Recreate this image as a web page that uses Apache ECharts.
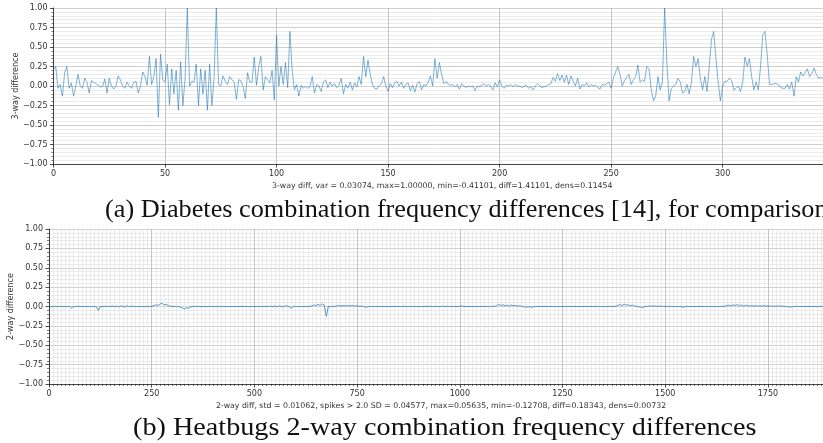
<!DOCTYPE html>
<html>
<head>
<meta charset="utf-8">
<script src="https://cdn.jsdelivr.net/npm/echarts@6/dist/echarts.min.js"></script>
<style>
  html, body { margin: 0; padding: 0; background: #fff; }
  #chart { width: 823px; height: 443px; }
</style>
</head>
<body>
<div id="chart"></div>
<script>
// (a) diabetes, 3-way differences, one value per combination index 0..345
const diabetesDiff = [
  0.20, 0.25, -0.03, 0.02, -0.13, 0.17, 0.25, -0.03, 0.04, -0.13,
  0.00, 0.15, 0.00, -0.03, 0.10, 0.05, -0.09, 0.07, 0.05, 0.03,
  0.01, -0.01, -0.01, 0.09, -0.09, 0.10, 0.00, -0.04, 0.00, 0.13,
  0.08, 0.00, -0.03, 0.05, 0.00, -0.03, 0.05, 0.06, -0.09, 0.00,
  0.18, 0.12, 0.01, 0.38, 0.02, 0.12, 0.35, -0.40, 0.41, 0.08,
  0.05, 0.28, -0.24, 0.22, -0.10, 0.20, -0.31, 0.31, -0.25, 0.10,
  1.00, 0.00, 0.06, 0.05, 0.28, -0.25, 0.22, -0.10, 0.20, -0.31,
  0.28, -0.25, 0.10, 1.00, 0.02, 0.00, 0.13, 0.06, 0.02, 0.12,
  0.08, 0.05, -0.17, 0.08, 0.07, -0.01, -0.16, 0.17, 0.05, 0.05,
  0.37, 0.01, 0.25, 0.38, -0.05, 0.12, 0.08, 0.04, 0.20, -0.18,
  0.65, 0.00, 0.25, 0.02, 0.30, -0.02, 0.70, 0.20, -0.05, 0.02,
  -0.13, 0.01, -0.03, 0.00, -0.03, -0.01, 0.12, -0.09, 0.02, 0.00,
  -0.07, 0.05, 0.08, -0.02, 0.05, 0.00, 0.03, -0.02, 0.01, 0.10,
  -0.10, 0.02, -0.03, 0.05, -0.05, 0.04, -0.01, 0.12, 0.02, 0.38,
  0.12, 0.33, 0.15, 0.02, -0.03, -0.04, 0.00, 0.03, 0.12, 0.00,
  -0.07, 0.03, -0.02, 0.04, 0.06, 0.00, 0.05, -0.03, 0.02, 0.04,
  -0.06, 0.01, -0.08, 0.03, 0.06, -0.05, 0.02, 0.00, 0.05, 0.13,
  0.00, 0.35, 0.10, 0.30, 0.15, 0.03, 0.06, 0.02, 0.01, 0.02,
  -0.01, 0.02, -0.04, 0.03, 0.00, -0.02, 0.00, -0.01, 0.00, -0.06,
  0.00, -0.01, 0.01, 0.03, 0.00, 0.02, -0.01, -0.05, 0.04, -0.01,
  0.08, 0.00, -0.03, 0.01, 0.00, 0.02, -0.01, 0.02, 0.00, 0.00,
  -0.02, 0.00, 0.01, -0.03, -0.01, -0.05, 0.00, 0.03, 0.00, -0.02,
  -0.01, 0.00, 0.02, 0.03, 0.11, 0.06, 0.16, 0.07, 0.14, 0.05,
  0.14, 0.02, 0.13, 0.06, 0.00, 0.10, -0.04, 0.02, 0.00, 0.04,
  -0.01, 0.02, 0.00, 0.01, -0.02, -0.04, 0.02, 0.01, 0.03, 0.05,
  -0.03, 0.10, 0.18, 0.25, 0.15, 0.00, 0.07, 0.11, 0.15, 0.02,
  0.08, 0.12, 0.27, 0.05, 0.08, 0.06, 0.25, 0.22, -0.05, -0.19,
  -0.13, 0.12, -0.05, 0.05, 1.00, 0.30, -0.19, -0.03, 0.00, 0.02,
  0.10, 0.05, -0.09, -0.07, 0.02, -0.10, 0.05, 0.38, 0.25, 0.35,
  0.10, -0.05, 0.12, -0.07, 0.25, 0.60, 0.70, 0.35, 0.05, -0.19,
  0.00, 0.06, 0.06, 0.10, 0.07, -0.05, -0.03, 0.00, -0.07, 0.05,
  0.37, 0.25, 0.35, 0.12, -0.05, 0.05, -0.05, 0.25, 0.65, 0.70,
  0.40, 0.02, 0.02, 0.03, 0.03, 0.02, -0.02, -0.03, -0.03, 0.02,
  -0.04, 0.05, -0.13, 0.12, 0.05, 0.18, 0.13, 0.17, 0.22, 0.12,
  0.16, 0.23, 0.15, 0.10, 0.11, 0.10
];

// (b) heatbugs, 2-way differences, read every 5 combinations (0, 5, 10 ... 1885)
const HEAT_STEP = 5;
const heatbugsDiff = [
  0.002, -0.003, 0.001, 0.004, -0.002, 0.000, 0.003, -0.004, 0.002, -0.001,
  0.003, -0.020, 0.002, -0.003, 0.004, 0.001, -0.002, 0.003, -0.001, 0.002,
  -0.003, 0.001, 0.004, -0.004, -0.050, 0.002, -0.002, 0.001, 0.003, -0.002,
  0.001, 0.006, -0.004, 0.008, -0.006, 0.007, 0.003, -0.007, 0.009, -0.003,
  0.004, 0.002, -0.002, 0.001, -0.003, 0.002, 0.000, -0.002, 0.003, -0.001,
  0.002, 0.012, 0.020, 0.015, 0.030, 0.045, 0.018, 0.030, 0.010, 0.006,
  -0.002, 0.004, -0.003, 0.002, -0.010, -0.020, -0.032, -0.015, -0.022, -0.006,
  0.003, -0.002, 0.004, 0.001, -0.003, 0.002, 0.000, -0.002, 0.003, -0.001,
  0.002, -0.003, 0.001, 0.003, -0.002, 0.001, -0.001, 0.002, -0.002, 0.001,
  0.000, 0.002, -0.002, 0.001, 0.003, -0.001, 0.002, -0.003, 0.001, 0.000,
  0.002, -0.001, 0.003, -0.002, 0.001, -0.002, 0.002, 0.000, 0.005, -0.004,
  0.007, -0.005, 0.008, 0.003, -0.006, 0.006, 0.009, -0.004, -0.025, 0.004,
  0.001, -0.002, 0.002, 0.000, -0.001, 0.002, -0.002, 0.004, 0.006, 0.020,
  0.010, 0.030, 0.012, 0.035, 0.018, -0.127, 0.004, -0.003, 0.002, 0.001,
  0.008, 0.011, 0.006, 0.012, 0.009, 0.013, 0.007, 0.010, 0.012, 0.006,
  0.009, 0.005, 0.003, 0.004, -0.010, -0.006, 0.002, 0.001, -0.002, 0.002,
  -0.001, 0.003, 0.000, -0.002, 0.002, 0.001, -0.003, 0.002, -0.001, 0.000,
  0.002, -0.002, 0.001, 0.003, -0.001, 0.000, 0.002, -0.002, 0.001, -0.001,
  0.002, 0.000, -0.002, 0.003, -0.001, 0.002, 0.004, -0.002, 0.001, 0.003,
  -0.002, 0.001, 0.002, -0.001, 0.003, 0.000, -0.002, 0.002, 0.001, -0.001,
  0.003, 0.008, 0.001, -0.002, 0.002, 0.000, -0.001, 0.002, -0.002, 0.001,
  0.002, -0.001, 0.000, 0.002, -0.002, 0.001, 0.003, 0.002, 0.010, 0.028,
  0.012, 0.022, 0.008, 0.018, 0.006, 0.020, 0.010, 0.015, 0.005, 0.012,
  0.004, -0.004, -0.006, -0.008, -0.003, -0.015, 0.001, -0.002, 0.002, 0.001,
  -0.001, 0.002, 0.000, -0.002, 0.002, 0.001, -0.001, 0.002, -0.002, 0.000,
  0.002, -0.001, 0.001, 0.003, -0.002, 0.000, 0.002, -0.001, 0.001, -0.002,
  0.001, 0.002, -0.001, 0.000, 0.002, -0.002, 0.001, 0.003, -0.001, 0.002,
  0.000, -0.002, 0.001, 0.002, -0.001, 0.002, 0.004, 0.015, 0.025, 0.012,
  0.030, 0.018, 0.022, 0.010, 0.016, 0.006, 0.003, -0.004, -0.008, -0.015,
  -0.003, 0.002, 0.004, 0.006, 0.003, 0.007, 0.002, 0.005, 0.004, 0.001,
  0.003, -0.001, 0.002, 0.000, -0.002, 0.001, 0.002, -0.001, -0.004, -0.010,
  0.001, 0.002, -0.001, 0.000, 0.002, -0.002, 0.001, 0.002, -0.001, 0.000,
  0.002, -0.001, 0.001, -0.002, 0.002, 0.000, -0.001, 0.002, 0.001, 0.003,
  0.010, 0.018, 0.008, 0.022, 0.012, 0.025, 0.009, 0.020, 0.006, 0.015,
  0.012, 0.004, 0.011, 0.006, 0.009, 0.005, 0.010, 0.007, 0.012, 0.004,
  0.008, 0.003, 0.007, 0.002, 0.006, 0.004, 0.008, 0.002, 0.003, -0.002,
  -0.004, -0.008, -0.002, 0.001, 0.002, -0.001, 0.000, 0.002, -0.002, 0.001,
  0.002, -0.001, 0.000, 0.002, -0.002, 0.001, 0.002, 0.000
];

const yTicks = { min: -1, max: 1, interval: 0.25 };
const xNameA = '3-way diff, var = 0.03074, max=1.00000, min=-0.41101, diff=1.41101, dens=0.11454';
const xNameB = '2-way diff, std = 0.01062, spikes > 2.0 SD = 0.04577, max=0.05635, min=-0.12708, diff=0.18343, dens=0.00732';
const captionA = '(a) Diabetes combination frequency differences [14], for comparison';
const captionB = '(b) Heatbugs 2-way combination frequency differences';

const labelFont = { fontFamily: 'DejaVu Sans', fontSize: 8, color: '#333' };
const nameFont = { fontFamily: 'DejaVu Sans', fontSize: 7.8, color: '#333' };
const minus = v => String(v).replace('-', '\u2212');

function yAxisFor(gridIndex, name) {
  return {
    gridIndex: gridIndex,
    type: 'value',
    min: yTicks.min, max: yTicks.max, interval: yTicks.interval,
    name: name,
    nameLocation: 'middle',
    nameGap: 34,
    nameMoveOverlap: false,
    nameTextStyle: labelFont,
    axisLine: { show: true, lineStyle: { color: '#222', width: 0.8 } },
    axisTick: { show: true, length: 3.5, lineStyle: { color: '#222', width: 0.8 } },
    minorTick: { show: true, splitNumber: 5, length: 2, lineStyle: { color: '#222', width: 0.6 } },
    axisLabel: Object.assign({ margin: 6, formatter: v => minus(v.toFixed(2)) }, labelFont),
    splitLine: { show: true, lineStyle: { color: '#c4c4c4', width: 0.8 } },
    minorSplitLine: { show: true, lineStyle: { color: '#e2e2e2', width: 0.7 } }
  };
}

const chart = echarts.init(document.getElementById('chart'));
chart.setOption({
  animation: false,
  backgroundColor: '#fff',
  grid: [
    { left: 53.5, right: 0, top: 8, height: 156, containLabel: false, outerBoundsMode: 'none' },
    { left: 49, right: 0, top: 229, height: 155, containLabel: false, outerBoundsMode: 'none' }
  ],
  xAxis: [
    {
      gridIndex: 0, type: 'value', min: 0, max: 345, interval: 50,
      name: xNameA, nameLocation: 'middle', nameGap: 18,
      nameTextStyle: Object.assign({ padding: [0, 0, 0, 8] }, nameFont),
      axisLine: { onZero: false, lineStyle: { color: '#222', width: 0.8 } },
      axisTick: { length: 3.5, lineStyle: { color: '#222', width: 0.8 } },
      axisLabel: Object.assign({ margin: 6, showMaxLabel: false, formatter: v => String(v) }, labelFont),
      splitLine: { show: true, lineStyle: { color: '#b8b8b8', width: 0.8 } }
    },
    {
      gridIndex: 1, type: 'value', min: 0, max: 1884, interval: 250,
      name: xNameB, nameLocation: 'middle', nameGap: 18,
      nameTextStyle: Object.assign({ padding: [0, 0, 0, 10] }, nameFont),
      axisLine: { onZero: false, lineStyle: { color: '#222', width: 0.8 } },
      axisTick: { length: 3.5, lineStyle: { color: '#222', width: 0.8 } },
      minorTick: { show: true, splitNumber: 25, length: 2, lineStyle: { color: '#222', width: 0.6 } },
      axisLabel: Object.assign({ margin: 6, showMaxLabel: false, formatter: v => String(v) }, labelFont),
      splitLine: { show: true, lineStyle: { color: '#b8b8b8', width: 0.8 } },
      minorSplitLine: { show: true, lineStyle: { color: '#e2e2e2', width: 0.7 } }
    }
  ],
  yAxis: [yAxisFor(0, '3-way difference'), yAxisFor(1, '2-way difference')],
  series: [
    {
      type: 'line', xAxisIndex: 0, yAxisIndex: 0,
      data: diabetesDiff.map((v, i) => [i, v]),
      showSymbol: false, clip: true,
      lineStyle: { color: '#1f77b4', width: 0.8, opacity: 0.7 }
    },
    {
      type: 'line', xAxisIndex: 1, yAxisIndex: 1,
      data: heatbugsDiff.map((v, i) => [i * HEAT_STEP, v]),
      showSymbol: false, clip: true,
      lineStyle: { color: '#1f77b4', width: 0.8, opacity: 0.9 }
    }
  ],
  graphic: [
    {
      // caption fonts are Computer Modern in the paper, so a wider serif is faked with scaleX
      type: 'text', x: 105, y: 198, scaleX: 1.05,
      style: { text: captionA, font: '25px "Liberation Serif"', fill: '#111' }
    },
    {
      type: 'text', x: 133, y: 416, scaleX: 1.128,
      style: { text: captionB, font: '25px "Liberation Serif"', fill: '#111' }
    }
  ]
});
</script>
</body>
</html>
